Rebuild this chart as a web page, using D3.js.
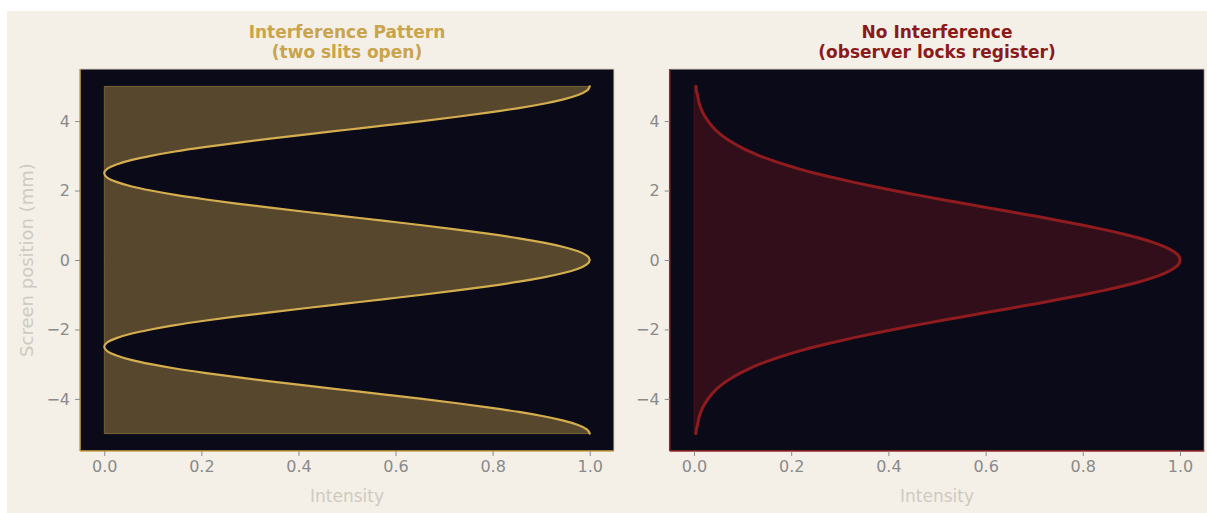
<!DOCTYPE html>
<html>
<head>
<meta charset="utf-8">
<script src="https://cdn.jsdelivr.net/npm/d3@7"></script>
<style>
  html, body { margin: 0; padding: 0; background: #ffffff; }
  svg { display: block; }
  text { font-family: "DejaVu Sans", sans-serif; }
</style>
</head>
<body>
<svg id="chart" width="1207" height="513"></svg>
<script>
// Screen positions (mm)
const positions = [
  -5, -4.875, -4.75, -4.625, -4.5, -4.375, -4.25, -4.125, -4, -3.875, -3.75, -3.625, -3.5, -3.375, -3.25, -3.125,
  -3, -2.875, -2.75, -2.625, -2.5, -2.375, -2.25, -2.125, -2, -1.875, -1.75, -1.625, -1.5, -1.375, -1.25, -1.125,
  -1, -0.875, -0.75, -0.625, -0.5, -0.375, -0.25, -0.125, 0,
  0.125, 0.25, 0.375, 0.5, 0.625, 0.75, 0.875, 1, 1.125, 1.25, 1.375, 1.5, 1.625, 1.75, 1.875,
  2, 2.125, 2.25, 2.375, 2.5, 2.625, 2.75, 2.875, 3, 3.125, 3.25, 3.375, 3.5, 3.625, 3.75, 3.875,
  4, 4.125, 4.25, 4.375, 4.5, 4.625, 4.75, 4.875, 5];
// Interference pattern intensity (two slits open)
const interference = [
  1.0, 0.994, 0.976, 0.946, 0.905, 0.854, 0.794, 0.727, 0.655, 0.578, 0.5, 0.422, 0.346, 0.273, 0.206, 0.146,
  0.096, 0.055, 0.025, 0.006, 0.0, 0.006, 0.025, 0.055, 0.096, 0.146, 0.206, 0.273, 0.346, 0.422, 0.5, 0.578,
  0.655, 0.727, 0.794, 0.854, 0.905, 0.946, 0.976, 0.994, 1.0,
  0.994, 0.976, 0.946, 0.905, 0.854, 0.794, 0.727, 0.655, 0.578, 0.5, 0.422, 0.346, 0.273, 0.206, 0.146,
  0.096, 0.055, 0.025, 0.006, 0.0, 0.006, 0.025, 0.055, 0.096, 0.146, 0.206, 0.273, 0.346, 0.422, 0.5, 0.578,
  0.655, 0.727, 0.794, 0.854, 0.905, 0.946, 0.976, 0.994, 1.0];
// No interference intensity (observer locks register)
const noInterference = [
  0.004, 0.005, 0.007, 0.009, 0.011, 0.014, 0.018, 0.023, 0.029, 0.036, 0.044, 0.054, 0.066, 0.080, 0.096, 0.114,
  0.135, 0.159, 0.186, 0.216, 0.249, 0.286, 0.325, 0.367, 0.411, 0.458, 0.506, 0.556, 0.607, 0.657, 0.707, 0.755,
  0.801, 0.844, 0.883, 0.917, 0.946, 0.969, 0.986, 0.997, 1.0,
  0.997, 0.986, 0.969, 0.946, 0.917, 0.883, 0.844, 0.801, 0.755, 0.707, 0.657, 0.607, 0.556, 0.506, 0.458,
  0.411, 0.367, 0.325, 0.286, 0.249, 0.216, 0.186, 0.159, 0.135, 0.114, 0.096, 0.080, 0.066, 0.054, 0.044, 0.036,
  0.029, 0.023, 0.018, 0.014, 0.011, 0.009, 0.007, 0.005, 0.004];
const xTicks = [0.0, 0.2, 0.4, 0.6, 0.8, 1.0];
const yTicks = [-4, -2, 0, 2, 4];
const titlesLeft = ["Interference Pattern", "(two slits open)"];
const titlesRight = ["No Interference", "(observer locks register)"];

const svg = d3.select("#chart");
svg.append("rect").attr("x", 7).attr("y", 11).attr("width", 1200).attr("height", 502).attr("fill", "#f4f0e8");

const panelTop = 69, panelBottom = 451;
const panels = [
  { left: 80, right: 614, values: interference, line: "#d4ad4f", fill: "#d4ad4f", fillOp: 0.38, lineW: 2.2, spine: "#c9a44a", titleColor: "#c9a44a", titles: titlesLeft, ylabel: true },
  { left: 669.7, right: 1204.3, values: noInterference, line: "#8e1b1e", fill: "#8e1b1e", fillOp: 0.3, lineW: 3, spine: "#9b2a2a", titleColor: "#8b1a1a", titles: titlesRight, ylabel: false }
];

const fmt = d3.format(".1f");
const fmtY = d => d < 0 ? "\u2212" + Math.abs(d) : String(d);

panels.forEach(p => {
  const x = d3.scaleLinear().domain([-0.05, 1.05]).range([p.left, p.right]);
  const y = d3.scaleLinear().domain([-5.5, 5.5]).range([panelBottom, panelTop]);
  const g = svg.append("g");

  g.append("rect").attr("x", p.left).attr("y", panelTop)
    .attr("width", p.right - p.left).attr("height", panelBottom - panelTop)
    .attr("fill", "#0a0a19");

  const data = positions.map((pos, i) => ({ pos, v: p.values[i] }));
  const area = d3.area()
    .y(d => y(d.pos)).x0(x(0)).x1(d => x(d.v))
    .curve(d3.curveMonotoneY);
  g.append("path").datum(data).attr("d", area)
    .attr("fill", p.fill).attr("fill-opacity", p.fillOp)
    .attr("stroke", p.fill).attr("stroke-opacity", p.fillOp).attr("stroke-width", 1);

  const line = d3.line().y(d => y(d.pos)).x(d => x(d.v)).curve(d3.curveMonotoneY);
  g.append("path").datum(data).attr("d", line)
    .attr("fill", "none").attr("stroke", p.line).attr("stroke-width", p.lineW)
    .attr("stroke-linecap", "round");

  // top/right spines
  g.append("line").attr("x1", p.left).attr("x2", p.right).attr("y1", panelTop).attr("y2", panelTop)
    .attr("stroke", "#d6cfc0").attr("stroke-width", 1);
  g.append("line").attr("x1", p.right).attr("x2", p.right).attr("y1", panelTop).attr("y2", panelBottom)
    .attr("stroke", "#d6cfc0").attr("stroke-width", 1);

  // axes
  const xAxis = g.append("g").attr("transform", `translate(0,${panelBottom})`)
    .call(d3.axisBottom(x).tickValues(xTicks).tickFormat(fmt).tickSize(5).tickPadding(5));
  const yAxis = g.append("g").attr("transform", `translate(${p.left},0)`)
    .call(d3.axisLeft(y).tickValues(yTicks).tickFormat(fmtY).tickSize(5).tickPadding(5));
  [xAxis, yAxis].forEach(a => {
    a.select(".domain").attr("stroke", p.spine).attr("stroke-width", 1.5);
    a.selectAll(".tick line").attr("stroke", "#8a8a8a");
    a.selectAll(".tick text").attr("fill", "#8a8a8a").style("font-size", "16px").style("font-family", "DejaVu Sans, sans-serif");
  });
  xAxis.select(".domain").attr("d", `M${p.left},0H${p.right}`);
  yAxis.select(".domain").attr("d", `M0,${panelTop}V${panelBottom}`);

  // axis label
  const cx = (p.left + p.right) / 2;
  g.append("text").attr("x", cx).attr("y", 502).attr("text-anchor", "middle")
    .attr("fill", "#cfcac0").style("font-size", "17px").text("Intensity");
  if (p.ylabel) {
    g.append("text").attr("transform", `translate(33,${(panelTop + panelBottom) / 2}) rotate(-90)`)
      .attr("text-anchor", "middle").attr("fill", "#cfcac0").style("font-size", "18px")
      .text("Screen position (mm)");
  }

  // title
  p.titles.forEach((t, i) => {
    g.append("text").attr("x", cx).attr("y", 38 + i * 20).attr("text-anchor", "middle")
      .attr("fill", p.titleColor).style("font-size", "17px").style("font-weight", "bold").text(t);
  });
});
</script>
</body>
</html>
